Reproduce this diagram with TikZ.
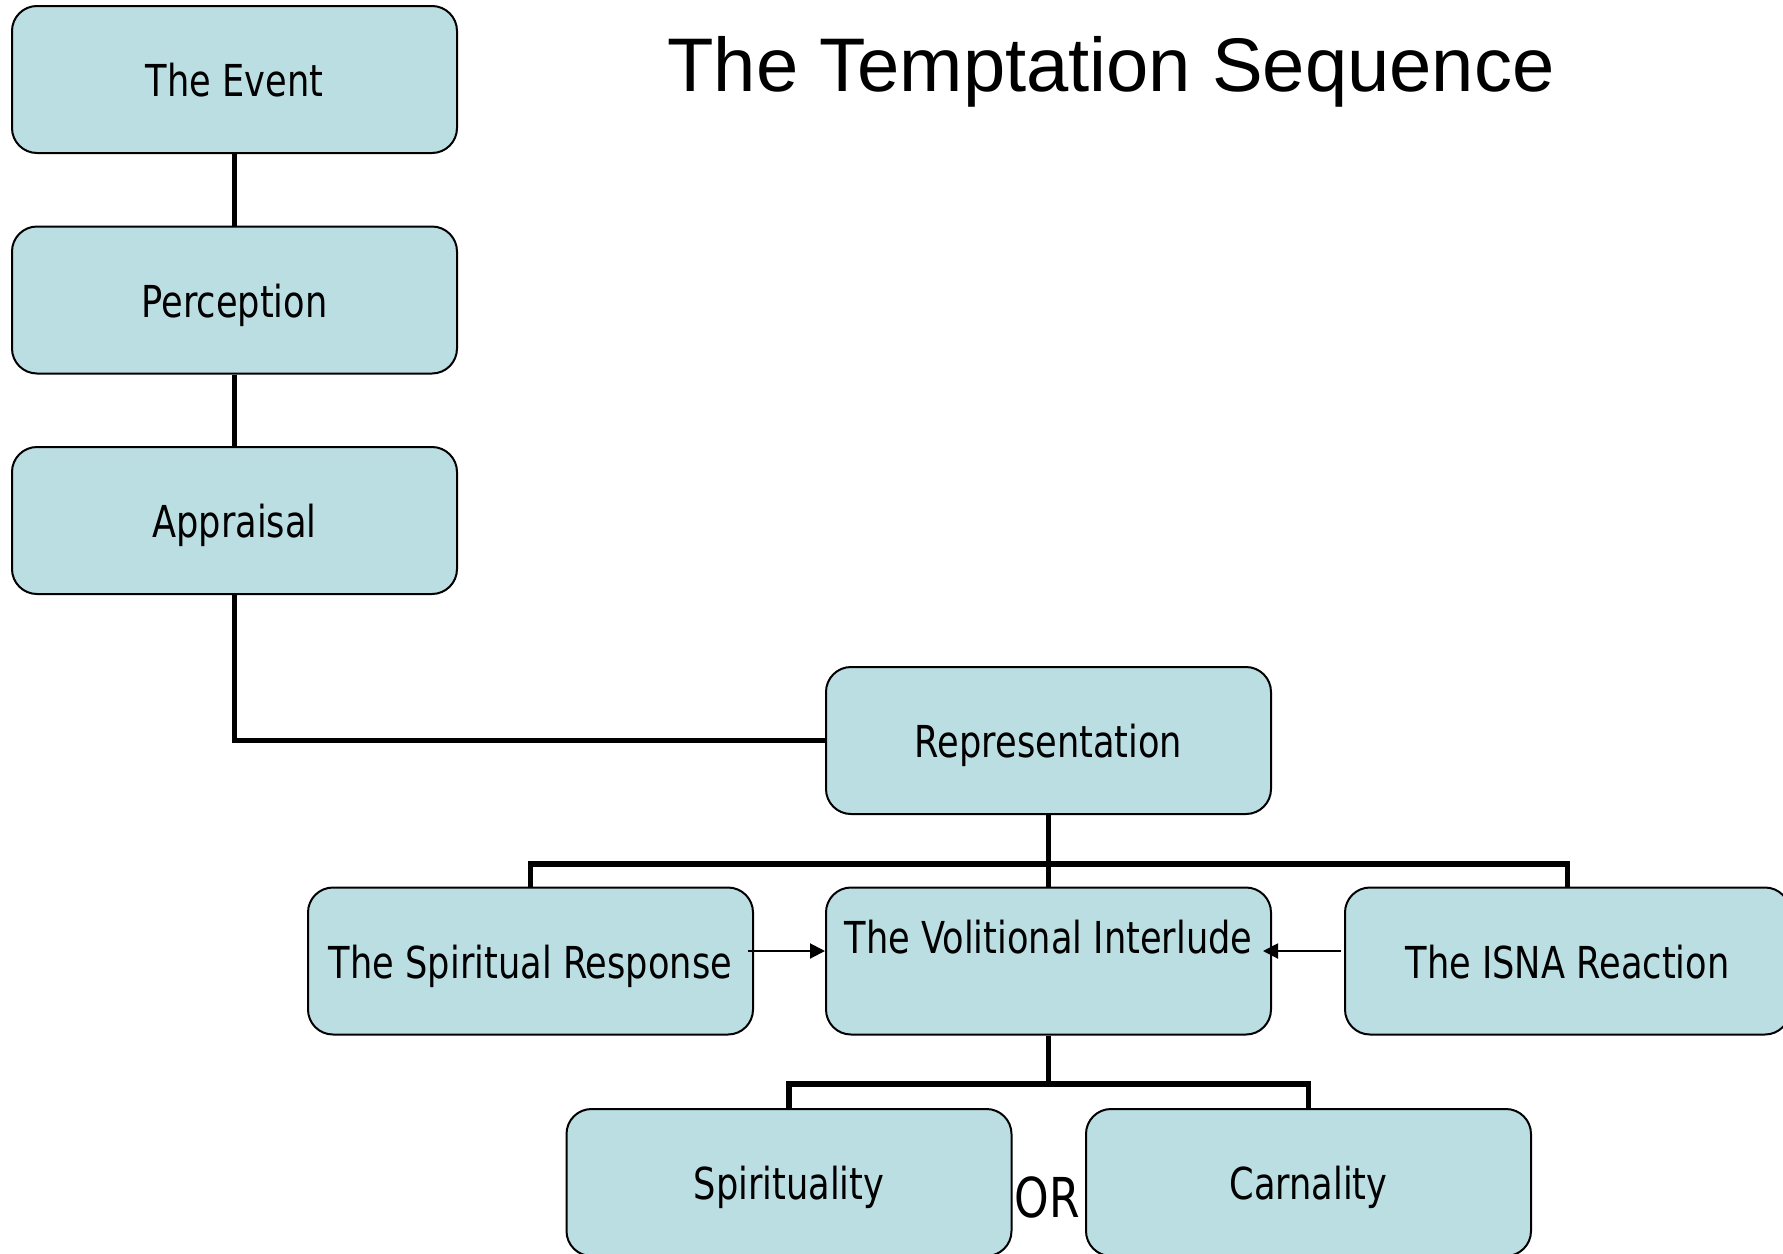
\documentclass[tikz,border=0pt]{standalone}
\usepackage{fontspec}
\usetikzlibrary{arrows.meta}
\newfontfamily\boxfont{DejaVu Sans}[FakeStretch=0.8]
\newfontfamily\titlefont{Liberation Sans}
\definecolor{boxblue}{RGB}{187,222,227}
\tikzset{
  stagebox/.style = {draw = black, fill = boxblue, line width = 1pt, rounded corners = 12.5pt,
    minimum width = 222.5pt, minimum height = 73.5pt, inner sep = 0pt,
    font = \boxfont\fontsize{22}{26}\selectfont, text height = 17pt, text depth = 0pt},
  toptext/.style = {text height = 17pt, text depth = 25pt},
  link/.style = {draw = black, line width = 2.75pt},
  push/.style = {draw = black, line width = 1pt, -{Triangle[length=7.5pt,width=7.5pt]}}
}
\begin{document}
\begin{tikzpicture}[x = 0.5pt, y = -0.5pt]
\useasboundingbox (0,0) rectangle (1783,1253);
\node[anchor = base, font = \titlefont\fontsize{38}{45}\selectfont] (title) at (1111,91) {The Temptation Sequence};
% left column
\node[stagebox] (event) at (234.5,79.5) {The Event};
\node[stagebox] (perc) at (234.5,300) {Perception};
\node[stagebox] (appr) at (234.5,520.5) {Appraisal};
\node[stagebox] (repr) at (1048.5,740.5) {Representation};
% middle row
\node[stagebox] (spir) at (530.5,961) {The Spiritual Response};
\node[stagebox, toptext] (voli) at (1048.5,961) {The Volitional Interlude};
\node[stagebox] (isna) at (1567.5,961) {The ISNA Reaction};
% outcomes
\node[stagebox] (spty) at (789,1182.5) {Spirituality};
\node[stagebox] (carn) at (1308.5,1182.5) {Carnality};
\node[font = \boxfont\fontsize{27.5}{32}\selectfont, inner sep = 0pt] (or) at (1047,1197) {OR};
\coordinate (bar1) at (1048.5,864);
\coordinate (bar2) at (1048.5,1084);
\draw[link] (event) -- (perc);
\draw[link] (perc) -- (appr);
\draw[link] (appr.south) |- (repr.west);
\draw[link] (repr.south) -- (bar1) -| (spir.north);
\draw[link] (bar1) -| (isna.north);
\draw[link] (bar1) -- (voli.north);
\draw[link] (voli.south) -- (bar2) -| (spty.north);
\draw[link] (bar2) -| (carn.north);
\draw[push] ([xshift=-3pt,yshift=5pt]spir.east) -- ([yshift=5pt]voli.west);
\draw[push] ([xshift=-1.5pt,yshift=5pt]isna.west) -- ([xshift=-4.5pt,yshift=5pt]voli.east);
\end{tikzpicture}
\end{document}
